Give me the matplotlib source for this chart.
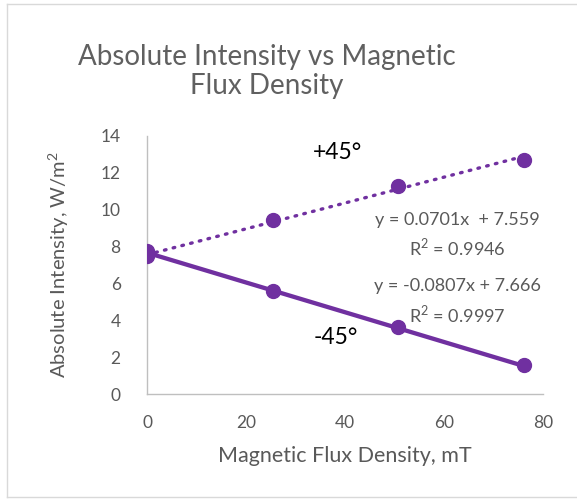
import matplotlib
matplotlib.use('Agg')
import matplotlib.pyplot as plt
import numpy as np

# data
flux = [0, 25.4, 50.8, 76.1]
plus45 = [7.74, 9.46, 11.27, 12.68]
minus45 = [7.47, 5.57, 3.61, 1.55]

# trendline coefficients shown on the chart
plus_fit = (0.0701, 7.559)
minus_fit = (-0.0807, 7.666)
plus_eq = "y = 0.0701x  + 7.559\nR$^2$ = 0.9946"
minus_eq = "y = -0.0807x + 7.666\nR$^2$ = 0.9997"

purple = '#7030A0'
gray = '#595959'

plt.rcParams['font.family'] = ['Lato', 'DejaVu Sans']
plt.rcParams['mathtext.fontset'] = 'custom'
plt.rcParams['mathtext.rm'] = 'Lato'

fig = plt.figure(figsize=(5.77, 4.99), dpi=100)
ax = fig.add_axes([0.2548, 0.2104, 0.686, 0.5171])

# chart border (no right side visible)
fig.add_artist(plt.Line2D([0.012, 0.012], [0.004, 0.992], color='#D9D9D9', lw=1))
fig.add_artist(plt.Line2D([0.012, 1.0], [0.992, 0.992], color='#D9D9D9', lw=1))
fig.add_artist(plt.Line2D([0.012, 1.0], [0.004, 0.004], color='#D9D9D9', lw=1))

xs = np.array([flux[0], flux[-1]])
ax.plot(xs, plus_fit[0] * xs + plus_fit[1], color=purple, lw=2.4,
        linestyle=(0, (0.5, 2.2)), dash_capstyle='round')
ax.plot(xs, minus_fit[0] * xs + minus_fit[1], color=purple, lw=3.1)
ax.plot(flux, plus45, 'o', color=purple, ms=10, zorder=3)
ax.plot(flux, minus45, 'o', color=purple, ms=10, zorder=3)

ax.set_xlim(0, 80)
ax.set_ylim(0, 14)
ax.set_xticks(range(0, 81, 20))
ax.set_yticks(range(0, 15, 2))
ax.tick_params(length=0, colors=gray, labelsize=12.5, pad=15)
ax.tick_params(axis='y', pad=19)
for s in ['top', 'right']:
    ax.spines[s].set_visible(False)
for s in ['left', 'bottom']:
    ax.spines[s].set_color('#BFBFBF')
    ax.spines[s].set_linewidth(1)

ax.text(38.4, 13.1, '+45°', fontsize=16.5, color='black', ha='center', va='center')
ax.text(38.2, 3.04, '-45°', fontsize=16.5, color='black', ha='center', va='center')
ax.text(62.8, 8.62, plus_eq, fontsize=13, color=gray, ha='center', va='center',
        linespacing=1.45)
ax.text(62.8, 5.02, minus_eq, fontsize=13, color=gray, ha='center', va='center',
        linespacing=1.45)

ax.set_xlabel('Magnetic Flux Density, mT', fontsize=15.5, color=gray, labelpad=11)
ax.set_ylabel('Absolute Intensity, W/m$^2$', fontsize=14.5, color=gray, labelpad=21)

fig.text(0.462, 0.856, 'Absolute Intensity vs Magnetic\nFlux Density', fontsize=20,
         color='#606060', ha='center', va='center', linespacing=1.15)

fig.savefig('out.png', dpi=100)
